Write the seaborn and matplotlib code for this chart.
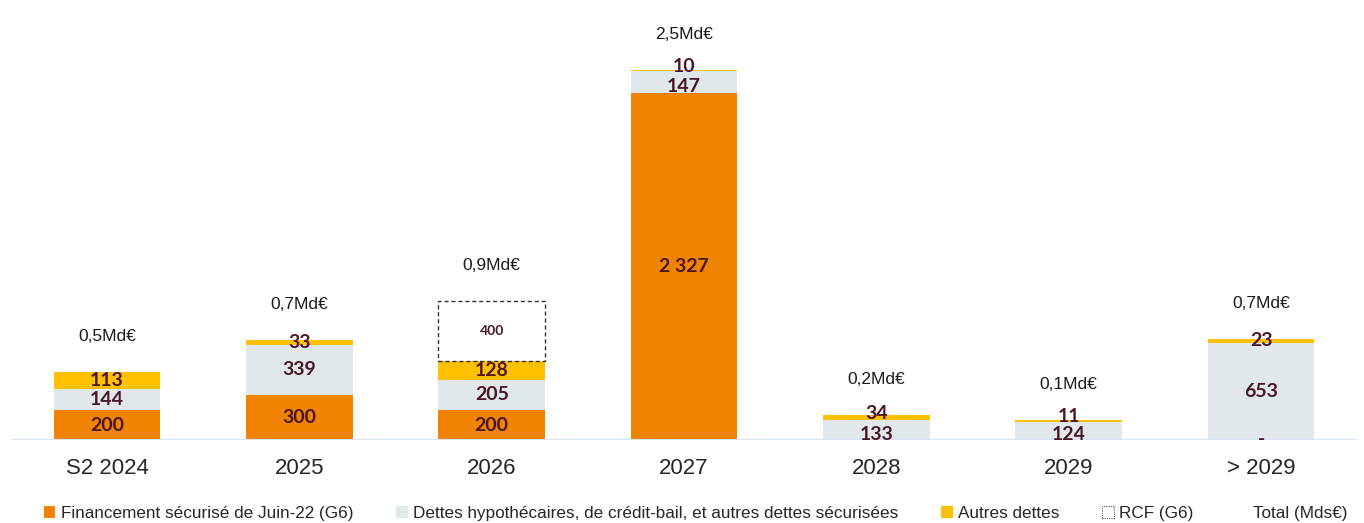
import numpy as np
import pandas as pd
import matplotlib
matplotlib.use("Agg")
import matplotlib.pyplot as plt
import seaborn as sns
from matplotlib.patches import Patch

years = ["S2 2024", "2025", "2026", "2027", "2028", "2029", "> 2029"]
financement_g6 = [200, 300, 200, 2327, 0, 0, 0]
dettes_hypo = [144, 339, 205, 147, 133, 124, 653]
autres_dettes = [113, 33, 128, 10, 34, 11, 23]
rcf_g6 = [0, 0, 400, 0, 0, 0, 0]
totals = ["0,5Md€", "0,7Md€", "0,9Md€", "2,5Md€", "0,2Md€", "0,1Md€", "0,7Md€"]
fin_labels = ["200", "300", "200", "2 327", "", "", "-"]

ORANGE = "#F08300"
GREY = "#E1E8EC"
YELLOW = "#FFC000"
MAROON = "#4A1628"

sns.set_style("white")
plt.rcParams["font.family"] = ["Liberation Sans", "DejaVu Sans"]

df = pd.DataFrame({
    "year": years,
    "fin": financement_g6,
    "hypo": dettes_hypo,
    "autres": autres_dettes,
    "rcf": rcf_g6,
})
df["b_hypo"] = df["fin"]
df["b_autres"] = df["fin"] + df["hypo"]
df["b_rcf"] = df["b_autres"] + df["autres"]
df["top"] = df["b_rcf"] + df["rcf"]

fig = plt.figure(figsize=(13.64, 5.23), dpi=100)
ax = fig.add_axes([0.008, 0.1587, 0.987, 0.8413])

w = 0.555
common = dict(x="year", width=w, linewidth=0, saturation=1, ax=ax)
sns.barplot(data=df, y="fin", color=ORANGE, **common)
sns.barplot(data=df, y="hypo", bottom=df["b_hypo"].values, color=GREY, **common)
sns.barplot(data=df, y="autres", bottom=df["b_autres"].values, color=YELLOW, **common)
rcf_bars = ax.bar(np.arange(len(years)), df["rcf"], bottom=df["b_rcf"], width=w,
                  facecolor="none", edgecolor="#333333", linestyle=(0, (3, 2)), linewidth=1)
for b, v in zip(rcf_bars, rcf_g6):
    if v == 0:
        b.set_visible(False)

lab = dict(ha="center", va="center", color=MAROON, fontsize=14, fontweight="bold",
           family=["Lato", "DejaVu Sans"], zorder=5, textcoords="offset points")
for i in range(len(years)):
    # thin stacks: nudge labels apart a little, as in the original
    nudge = 3 if dettes_hypo[i] < 200 and autres_dettes[i] < 40 else 0
    if fin_labels[i]:
        ax.annotate(fin_labels[i], (i, financement_g6[i] / 2), xytext=(0, 0), **lab)
    ax.annotate(str(dettes_hypo[i]), (i, df["b_hypo"][i] + dettes_hypo[i] / 2),
                xytext=(0, -nudge), **lab)
    ax.annotate(str(autres_dettes[i]), (i, df["b_autres"][i] + autres_dettes[i] / 2),
                xytext=(0, nudge), **lab)
    if rcf_g6[i]:
        ax.text(i, df["b_rcf"][i] + rcf_g6[i] / 2, str(rcf_g6[i]), ha="center", va="center",
                color=MAROON, fontsize=10, fontweight="bold", family=["Lato", "DejaVu Sans"])
    ax.annotate(totals[i], (i, df["top"][i]), xytext=(0, 20), textcoords="offset points",
                ha="center", va="bottom", fontsize=12.5, color="#1a1a1a")

ax.axhline(0, color="#D6E3F2", lw=1.5)
ax.set_xlim(-0.5, 6.5)
ax.set_ylim(0, 2950)
ax.set_xlabel("")
ax.set_ylabel("")
ax.set_yticks([])
ax.tick_params(axis="x", length=0, pad=13, labelsize=16)
sns.despine(ax=ax, left=True, bottom=True)

handles = [
    Patch(facecolor=ORANGE, edgecolor="none"),
    Patch(facecolor=GREY, edgecolor="none"),
    Patch(facecolor=YELLOW, edgecolor="none"),
    Patch(facecolor="none", edgecolor="#555555", linestyle=(0, (1, 1)), linewidth=0.8),
    Patch(facecolor="none", edgecolor="none"),
]
labels = ["Financement sécurisé de Juin-22 (G6)",
          "Dettes hypothécaires, de crédit-bail, et autres dettes sécurisées",
          "Autres dettes", "RCF (G6)", "Total (Mds€)"]
fig.legend(handles, labels, loc="center", bbox_to_anchor=(0.51, 0.019), ncol=5,
           frameon=False, fontsize=12.3, handlelength=0.7, handleheight=0.7,
           handletextpad=0.3, columnspacing=2.5)

fig.savefig("out.png", dpi=100)
